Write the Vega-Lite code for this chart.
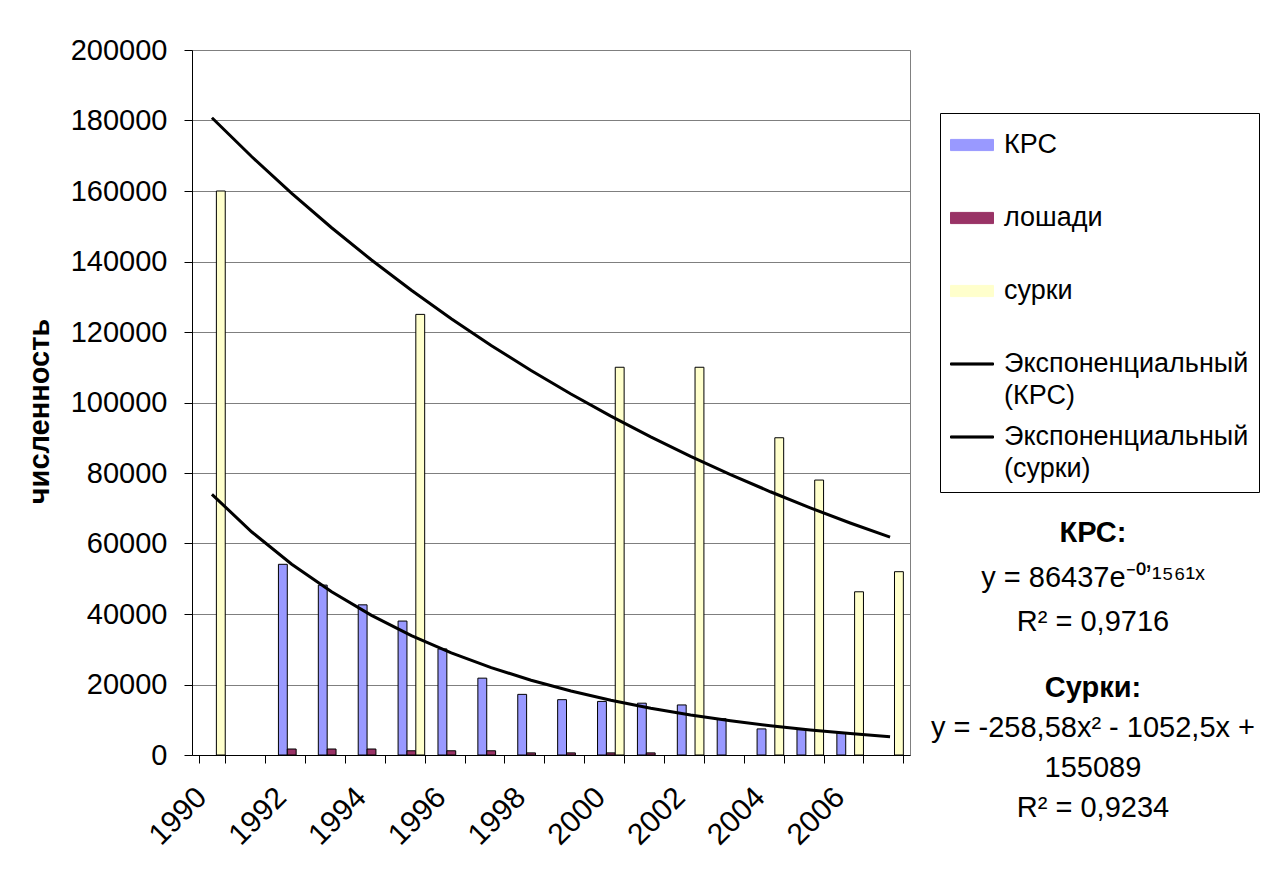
{
  "$schema": "https://vega.github.io/schema/vega-lite/v6.json",
  "background": "white",
  "padding": {"left": 24, "top": 35, "right": 5, "bottom": 5},
  "spacing": 33,
  "bounds": "flush",
  "config": {
    "font": "Liberation Sans",
    "view": {"stroke": null},
    "axis": {"labelFont": "Liberation Sans", "titleFont": "Liberation Sans", "labelColor": "black", "titleColor": "black", "domainColor": "black", "tickColor": "black", "domainWidth": 1, "tickWidth": 1},
    "title": {"font": "Liberation Sans", "subtitleFont": "Liberation Sans"}
  },
  "datasets": {
    "counts": [
      {"year": 1992, "series": "КРС", "value": 54100},
      {"year": 1993, "series": "КРС", "value": 48200},
      {"year": 1994, "series": "КРС", "value": 42600},
      {"year": 1995, "series": "КРС", "value": 38000},
      {"year": 1996, "series": "КРС", "value": 30100},
      {"year": 1997, "series": "КРС", "value": 21800},
      {"year": 1998, "series": "КРС", "value": 17200},
      {"year": 1999, "series": "КРС", "value": 15700},
      {"year": 2000, "series": "КРС", "value": 15200},
      {"year": 2001, "series": "КРС", "value": 14700},
      {"year": 2002, "series": "КРС", "value": 14200},
      {"year": 2003, "series": "КРС", "value": 10300},
      {"year": 2004, "series": "КРС", "value": 7400},
      {"year": 2005, "series": "КРС", "value": 7200},
      {"year": 2006, "series": "КРС", "value": 6300},
      {"year": 1992, "series": "лошади", "value": 1700},
      {"year": 1993, "series": "лошади", "value": 1700},
      {"year": 1994, "series": "лошади", "value": 1700},
      {"year": 1995, "series": "лошади", "value": 1200},
      {"year": 1996, "series": "лошади", "value": 1200},
      {"year": 1997, "series": "лошади", "value": 1200},
      {"year": 1998, "series": "лошади", "value": 600},
      {"year": 1999, "series": "лошади", "value": 600},
      {"year": 2000, "series": "лошади", "value": 600},
      {"year": 2001, "series": "лошади", "value": 600},
      {"year": 1990, "series": "сурки", "value": 160000},
      {"year": 1995, "series": "сурки", "value": 125000},
      {"year": 2000, "series": "сурки", "value": 110000},
      {"year": 2002, "series": "сурки", "value": 110000},
      {"year": 2004, "series": "сурки", "value": 90000},
      {"year": 2005, "series": "сурки", "value": 78000},
      {"year": 2006, "series": "сурки", "value": 46300},
      {"year": 2007, "series": "сурки", "value": 52000},
      {"year": 1990, "series": "Экспоненциальный (КРС)", "value": 73944},
      {"year": 1991, "series": "Экспоненциальный (КРС)", "value": 63257},
      {"year": 1992, "series": "Экспоненциальный (КРС)", "value": 54114},
      {"year": 1993, "series": "Экспоненциальный (КРС)", "value": 46293},
      {"year": 1994, "series": "Экспоненциальный (КРС)", "value": 39603},
      {"year": 1995, "series": "Экспоненциальный (КРС)", "value": 33879},
      {"year": 1996, "series": "Экспоненциальный (КРС)", "value": 28982},
      {"year": 1997, "series": "Экспоненциальный (КРС)", "value": 24794},
      {"year": 1998, "series": "Экспоненциальный (КРС)", "value": 21210},
      {"year": 1999, "series": "Экспоненциальный (КРС)", "value": 18145},
      {"year": 2000, "series": "Экспоненциальный (КРС)", "value": 15522},
      {"year": 2001, "series": "Экспоненциальный (КРС)", "value": 13279},
      {"year": 2002, "series": "Экспоненциальный (КРС)", "value": 11360},
      {"year": 2003, "series": "Экспоненциальный (КРС)", "value": 9718},
      {"year": 2004, "series": "Экспоненциальный (КРС)", "value": 8313},
      {"year": 2005, "series": "Экспоненциальный (КРС)", "value": 7112},
      {"year": 2006, "series": "Экспоненциальный (КРС)", "value": 6084},
      {"year": 2007, "series": "Экспоненциальный (КРС)", "value": 5205},
      {"year": 1990, "series": "Экспоненциальный (сурки)", "value": 180770},
      {"year": 1991, "series": "Экспоненциальный (сурки)", "value": 169710},
      {"year": 1992, "series": "Экспоненциальный (сурки)", "value": 159330},
      {"year": 1993, "series": "Экспоненциальный (сурки)", "value": 149580},
      {"year": 1994, "series": "Экспоненциальный (сурки)", "value": 140420},
      {"year": 1995, "series": "Экспоненциальный (сурки)", "value": 131830},
      {"year": 1996, "series": "Экспоненциальный (сурки)", "value": 123770},
      {"year": 1997, "series": "Экспоненциальный (сурки)", "value": 116190},
      {"year": 1998, "series": "Экспоненциальный (сурки)", "value": 109080},
      {"year": 1999, "series": "Экспоненциальный (сурки)", "value": 102410},
      {"year": 2000, "series": "Экспоненциальный (сурки)", "value": 96140},
      {"year": 2001, "series": "Экспоненциальный (сурки)", "value": 90260},
      {"year": 2002, "series": "Экспоненциальный (сурки)", "value": 84740},
      {"year": 2003, "series": "Экспоненциальный (сурки)", "value": 79550},
      {"year": 2004, "series": "Экспоненциальный (сурки)", "value": 74680},
      {"year": 2005, "series": "Экспоненциальный (сурки)", "value": 70110},
      {"year": 2006, "series": "Экспоненциальный (сурки)", "value": 65820},
      {"year": 2007, "series": "Экспоненциальный (сурки)", "value": 61800}
    ]
  },
  "hconcat": [
    {
      "width": 718,
      "height": 705,
      "view": {"stroke": "#808080", "strokeWidth": 1},
      "data": {"name": "counts"},
      "encoding": {
        "x": {
          "field": "year",
          "type": "ordinal",
          "scale": {"domain": [1990, 1991, 1992, 1993, 1994, 1995, 1996, 1997, 1998, 1999, 2000, 2001, 2002, 2003, 2004, 2005, 2006, 2007], "paddingInner": 0.3333, "paddingOuter": 0.1667},
          "axis": {
            "title": null,
            "labelAngle": -45,
            "labelAlign": "right",
            "labelBaseline": "bottom",
            "labelFontSize": 30,
            "labelPadding": 40,
            "labelExpr": "datum.value % 2 === 0 ? datum.label : ''",
            "labelOverlap": false,
            "tickBand": "extent",
            "tickSize": 8,
            "grid": false
          }
        },
        "y": {
          "field": "value",
          "type": "quantitative",
          "scale": {"domain": [0, 200000], "nice": false},
          "axis": {
            "values": [0, 20000, 40000, 60000, 80000, 100000, 120000, 140000, 160000, 180000, 200000],
            "format": "d",
            "grid": true,
            "gridColor": "#7f7f7f",
            "gridWidth": 1,
            "tickSize": 8,
            "labelPadding": 17,
            "labelFontSize": 29,
            "title": "численность",
            "titleFontSize": 29,
            "titleFontWeight": "bold",
            "titleAngle": -90,
            "titleX": -144,
            "titleY": 361,
            "titleAlign": "center",
            "titleBaseline": "alphabetic"
          }
        },
        "color": {
          "field": "series",
          "type": "nominal",
          "scale": {
            "domain": ["КРС", "лошади", "сурки", "Экспоненциальный (КРС)", "Экспоненциальный (сурки)"],
            "range": ["#9999FF", "#993366", "#FFFFCC", "#000000", "#000000"]
          },
          "legend": {
            "title": null,
            "orient": "none",
            "legendX": 748,
            "legendY": 63,
            "direction": "vertical",
            "strokeColor": "black",
            "fillColor": "white",
            "padding": 10,
            "labelFontSize": 27,
            "labelColor": "black",
            "labelFont": "Liberation Sans",
            "labelLimit": 0,
            "labelOffset": 10,
            "rowPadding": 6,
            "gridAlign": "all",
            "symbolSize": 1849,
            "symbolStrokeColor": "black",
            "symbolStrokeWidth": 1,
            "labelExpr": "indexof(datum.label, 'Экспоненциальный') === 0 ? split(datum.label, ' ') : datum.label",
            "encode": {
              "symbols": {
                "update": {
                  "shape": {"signal": "indexof(datum.value + '', 'Экспоненциальный') === 0 ? 'M-1,-0.05H1V0.05H-1Z' : 'M-1,-0.26H1V0.26H-1Z'"},
                  "stroke": {"value": "black"}
                }
              },
              "labels": {
                "update": {
                  "lineHeight": {"value": 32}
                }
              }
            }
          }
        }
      },
      "layer": [
        {
          "transform": [{"filter": "indexof(datum.series, 'Экспоненциальный') !== 0"}],
          "mark": {"type": "bar", "stroke": "black", "strokeWidth": 1, "opacity": 1},
          "encoding": {
            "xOffset": {"field": "series", "type": "nominal", "scale": {"domain": ["КРС", "лошади", "сурки"], "paddingInner": 0, "paddingOuter": 0}}
          }
        },
        {
          "transform": [{"filter": "indexof(datum.series, 'Экспоненциальный') === 0"}],
          "mark": {"type": "line", "strokeWidth": 3},
          "encoding": {}
        }
      ]
    },
    {
      "bounds": "flush",
      "spacing": 0,
      "vconcat": [
        {
          "width": 300,
          "height": 469,
          "data": {"values": [{"t": " "}]},
          "mark": {"type": "text"},
          "encoding": {"text": {"field": "t"}},
          "title": {
            "text": "КРС:",
            "subtitle": ["y = 86437e⁻⁰ʼ¹⁵⁶¹ˣ", "R² = 0,9716"],
            "orient": "bottom",
            "frame": "group",
            "anchor": "middle",
            "offset": 0,
            "fontSize": 29,
            "fontWeight": "bold",
            "color": "black",
            "subtitleFontSize": 29,
            "subtitleColor": "black",
            "subtitlePadding": 16,
            "subtitleLineHeight": 44
          }
        },
        {
          "width": 300,
          "height": 155,
          "data": {"values": [{"t": " "}]},
          "mark": {"type": "text"},
          "encoding": {"text": {"field": "t"}},
          "title": {
            "text": "Сурки:",
            "subtitle": ["y = -258,58x² - 1052,5x +", "155089", "R² = 0,9234"],
            "orient": "bottom",
            "frame": "group",
            "anchor": "middle",
            "offset": 0,
            "fontSize": 29,
            "fontWeight": "bold",
            "color": "black",
            "subtitleFontSize": 29,
            "subtitleColor": "black",
            "subtitlePadding": 11,
            "subtitleLineHeight": 40
          }
        }
      ]
    }
  ]
}
